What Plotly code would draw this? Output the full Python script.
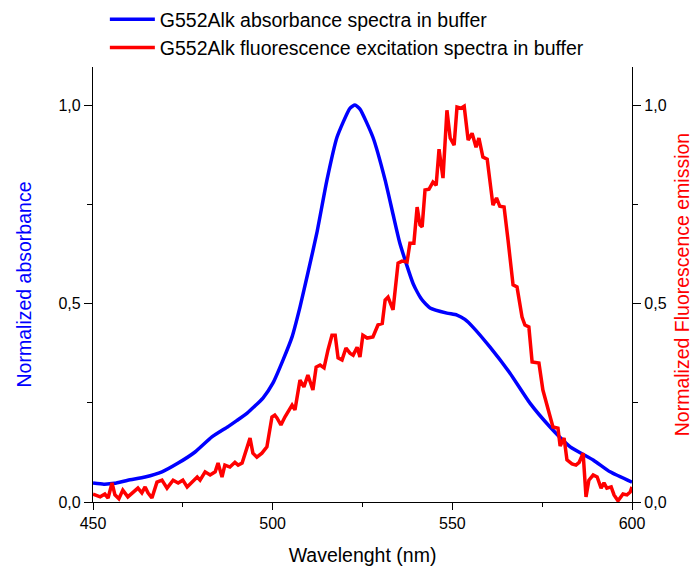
import plotly.graph_objects as go

# Absorbance (blue)
abs_wl = [450, 453, 456, 459.7, 464.5, 469.2, 473.7, 478.4, 483.1, 487.6, 490, 492.9, 497.3,
          500.1, 502.9, 505.4, 507.6, 509.8, 512.3, 515.1, 517.9, 521.5, 522.9, 524.3, 527.9,
          531.3, 533.5, 535.4, 539.1, 541.5, 543.8, 548.5, 551.3, 553.5, 555.8, 560.5, 566,
          571.6, 577.2, 582.8, 589.2, 593.9, 600]
abs_val = [0.048, 0.045, 0.047, 0.055, 0.063, 0.076, 0.098, 0.126, 0.164, 0.19, 0.205, 0.224, 0.262,
           0.30, 0.358, 0.416, 0.491, 0.577, 0.678, 0.811, 0.919, 0.992, 1.0, 0.99, 0.919,
           0.811, 0.725, 0.652, 0.55, 0.51, 0.489, 0.476, 0.471, 0.46, 0.44, 0.39, 0.325,
           0.249, 0.189, 0.139, 0.106, 0.076, 0.05]

# Fluorescence excitation (red)
fl_wl = [450, 450.6, 452, 453.3, 454.2, 455.3, 456.1, 457.2, 458.3, 459.7, 461.1, 462.5, 463.6,
         464.5, 465.3, 466.4, 467.8, 469.2, 470.6, 472.3, 473.7, 475, 476.2, 477.6, 479, 479.8,
         481.2, 482.6, 484, 484.8, 485.9, 486.7, 488.1, 489.5, 490.4, 491.5, 492.9, 493.7, 494.5,
         495.6, 497, 498.4, 499.8, 500.6, 501.2, 502.3, 503.4, 504.3, 505.4, 506.2, 507.6, 508.7,
         509.8, 511.2, 512.1, 513.2, 514.3, 515.4, 516.5, 517.4, 518.2, 519.3, 520.4, 521.5,
         522.4, 523.5, 524.3, 525.1, 526.3, 527.9, 529.3, 530.5, 531.3, 532.1, 533.5, 534.9,
         536, 537.4, 538.2, 539.3, 540.2, 541, 541.6, 542.4, 543.5, 544.6, 545.5, 546.3, 547.4,
         548.5, 549.4, 550.5, 551.3, 552.4, 553.3, 554.4, 555.5, 556.6, 557.4, 558.5, 559.7,
         561.3, 562.3, 563.2, 564.4, 565.5, 566.9, 568, 569.4, 570.2, 571.3, 572.2, 574.1,
         575.2, 576.6, 578, 579.4, 580, 581.1, 581.9, 583.3, 584.4, 585.3, 586.4, 587.2, 588,
         589.2, 590.3, 591.4, 592.2, 593, 594.2, 595, 596.1, 597.5, 598.6, 599.5, 600]
fl_val = [0.02, 0.018, 0.013, 0.02, 0.01, 0.048, 0.018, 0.008, 0.03, 0.013, 0.025, 0.035, 0.023,
          0.038, 0.023, 0.01, 0.05, 0.055, 0.035, 0.055, 0.048, 0.055, 0.038, 0.05, 0.063, 0.055,
          0.076, 0.068, 0.076, 0.098, 0.063, 0.093, 0.088, 0.1, 0.093, 0.098, 0.136, 0.161, 0.123,
          0.113, 0.123, 0.139, 0.214, 0.219, 0.212, 0.194, 0.214, 0.227, 0.244, 0.232, 0.307, 0.29,
          0.32, 0.282, 0.34, 0.345, 0.338, 0.383, 0.42, 0.42, 0.363, 0.358, 0.388, 0.375,
          0.37, 0.39, 0.365, 0.42, 0.413, 0.416, 0.446, 0.45, 0.509, 0.516, 0.484, 0.602,
          0.607, 0.605, 0.652, 0.652, 0.743, 0.698, 0.693, 0.786, 0.788, 0.806, 0.798, 0.889, 0.816,
          0.987, 0.917, 0.899, 0.995, 0.992, 0.997, 0.912, 0.929, 0.894, 0.917, 0.869, 0.864,
          0.748, 0.766, 0.745, 0.743, 0.66, 0.547, 0.542, 0.466, 0.446, 0.441, 0.353, 0.35,
          0.282, 0.232, 0.189, 0.186, 0.141, 0.161, 0.106, 0.096, 0.093, 0.1, 0.123, 0.013, 0.055,
          0.068, 0.063, 0.035, 0.048, 0.035, 0.038, 0.018, 0.003, 0.02, 0.018, 0.025, 0.038]

x_ticks = [450, 500, 550, 600]
x_ticktext = ["450", "500", "550", "600"]
y_ticks = [0.0, 0.5, 1.0]
y_ticktext = ["0,0", "0,5", "1,0"]

FONT = "Liberation Sans, Arial, sans-serif"

fig = go.Figure()
fig.add_trace(go.Scatter(x=abs_wl, y=abs_val, mode="lines",
                         line=dict(color="#0000FF", width=3.5, shape="spline", smoothing=0.5),
                         name="G552Alk absorbance spectra in buffer"))
fig.add_trace(go.Scatter(x=fl_wl, y=fl_val, mode="lines", yaxis="y2",
                         line=dict(color="#FF0000", width=3.5),
                         name="G552Alk fluorescence excitation spectra in buffer"))

yr = [0, 1.096]
# the page body adds an 8px offset, so the figure is 8px smaller and margins shifted
fig.update_layout(
    width=690, height=569,
    margin=dict(l=85, r=66, t=59, b=75, autoexpand=False),
    plot_bgcolor="white", paper_bgcolor="white",
    font=dict(family=FONT, color="black", size=16),
    showlegend=True,
    legend=dict(x=0.022, y=1.154, xanchor="left", yanchor="top", bgcolor="rgba(0,0,0,0)",
                font=dict(size=19.5, family=FONT), tracegroupgap=0, itemwidth=45),
    xaxis=dict(range=[450, 600], tickvals=x_ticks, ticktext=x_ticktext,
               ticks="outside", ticklen=7, tickwidth=1.3, tickcolor="black",
               showline=True, linecolor="black", linewidth=1.3, showgrid=False, zeroline=False,
               minor=dict(ticks="outside", ticklen=4, tickwidth=1.3, tickcolor="black", dtick=25, tick0=450, showgrid=False),
               title=dict(text="Wavelenght (nm)", font=dict(size=19.5, family=FONT), standoff=17),
               tickfont=dict(size=16, family=FONT)),
    yaxis=dict(range=yr, tickvals=y_ticks, ticktext=y_ticktext,
               ticks="outside", ticklen=8, tickwidth=1.3, tickcolor="black",
               showline=True, linecolor="black", linewidth=1.3, showgrid=False, zeroline=False,
               minor=dict(ticks="outside", ticklen=5, tickwidth=1.3, tickcolor="black", dtick=0.25, tick0=0, showgrid=False),
               title=dict(text="Normalized absorbance", font=dict(size=19.5, color="#0000FF", family=FONT), standoff=21),
               tickfont=dict(size=16, family=FONT)),
    yaxis2=dict(range=yr, overlaying="y", side="right", tickvals=y_ticks, ticktext=y_ticktext,
                ticks="outside", ticklen=8, tickwidth=1.3, tickcolor="black",
                showline=True, linecolor="black", linewidth=1.3, showgrid=False, zeroline=False,
                minor=dict(ticks="outside", ticklen=5, tickwidth=1.3, tickcolor="black", dtick=0.25, tick0=0, showgrid=False),
                title=dict(text="Normalized Fluorescence emission", font=dict(size=19.5, color="#FF0000", family=FONT), standoff=9),
                tickfont=dict(size=16, family=FONT)),
)

fig.write_html("out.html")
